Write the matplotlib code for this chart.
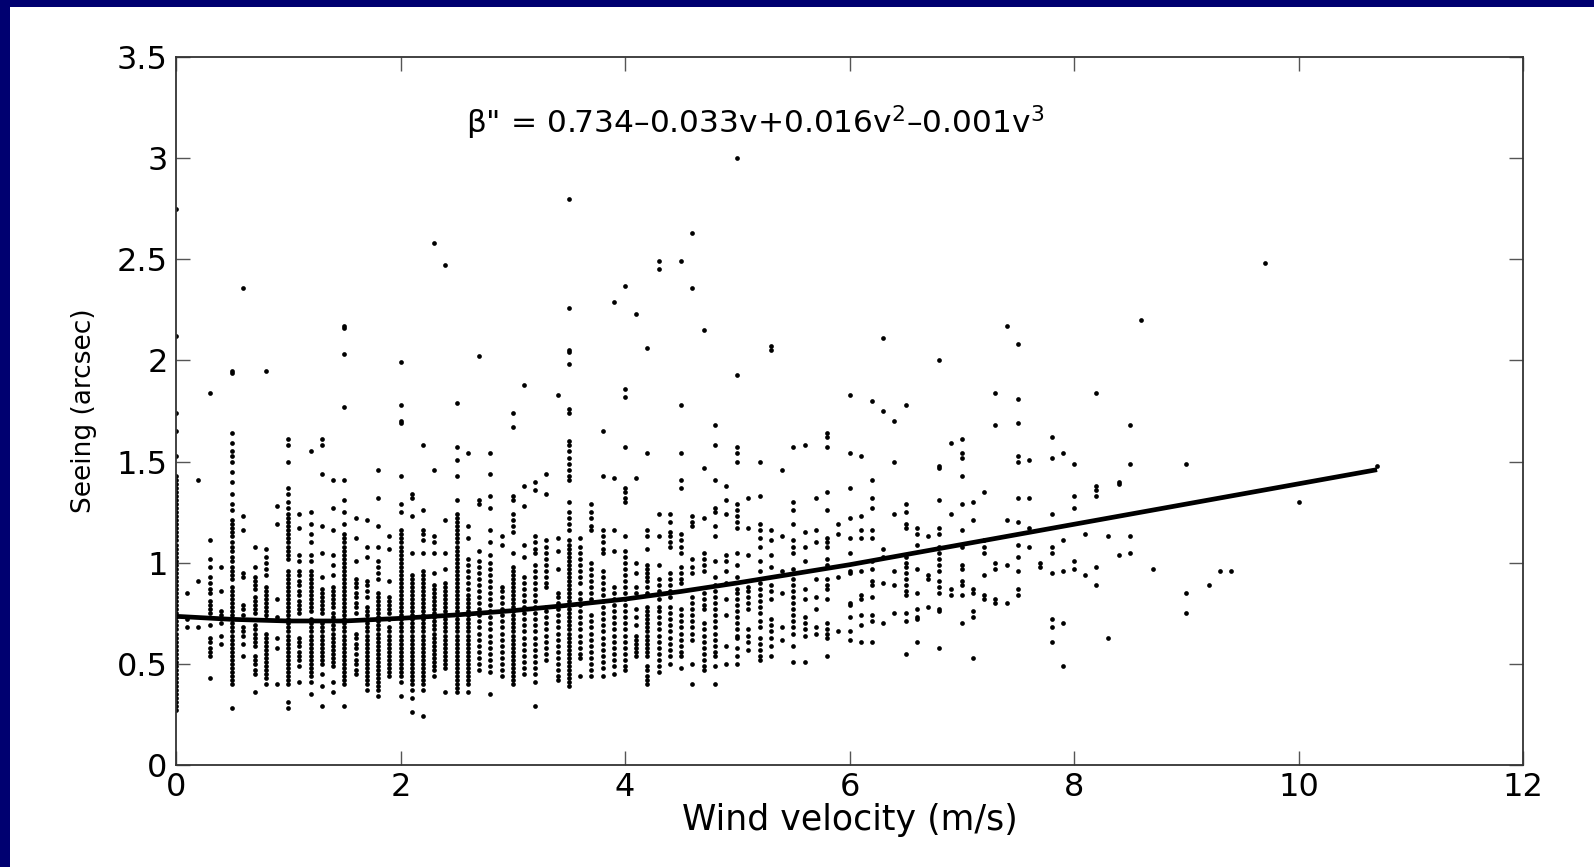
import matplotlib
matplotlib.use('Agg')
import matplotlib.pyplot as plt
from matplotlib.patches import Rectangle
import numpy as np

# wind velocity columns (m/s), data recorded in 0.1 m/s steps
col_v = [0.0, 0.1, 0.2, 0.3, 0.4, 0.5, 0.6, 0.7, 0.8, 0.9,
         1.0, 1.1, 1.2, 1.3, 1.4, 1.5, 1.6, 1.7, 1.8, 1.9,
         2.0, 2.1, 2.2, 2.3, 2.4, 2.5, 2.6, 2.7, 2.8, 2.9,
         3.0, 3.1, 3.2, 3.3, 3.4, 3.5, 3.6, 3.7, 3.8, 3.9,
         4.0, 4.1, 4.2, 4.3, 4.4, 4.5, 4.6, 4.7, 4.8, 4.9,
         5.0, 5.1, 5.2, 5.3, 5.4, 5.5, 5.6, 5.7, 5.8, 5.9,
         6.0, 6.1, 6.2, 6.3, 6.4, 6.5, 6.6, 6.7, 6.8, 6.9,
         7.0, 7.1, 7.2, 7.3, 7.4, 7.5, 7.6, 7.7, 7.8, 7.9,
         8.0, 8.1, 8.2, 8.3, 8.4, 8.5, 8.6, 8.7, 9.0, 9.2,
         9.3, 9.4, 9.7, 10.0, 10.7]

# seeing values for each column, in hundredths of arcsec
col_seeing = [
    [275, 212, 174, 165, 153, 143, 141, 139, 137, 135, 133, 131, 129, 127, 125, 123, 121, 119, 117, 115,
     113, 111, 109, 107, 105, 103, 101, 99, 97, 95, 93, 91, 89, 87, 85, 83, 81, 79, 77, 75, 73, 71, 69,
     67, 65, 63, 61, 59, 57, 55, 53, 51, 49, 47, 45, 43, 41, 39, 37, 35, 33, 31, 29, 27],
    [85, 72, 68],
    [141, 91, 68],
    [184, 111, 102, 98, 93, 90, 87, 85, 81, 79, 77, 75, 69, 63, 61, 58, 56, 54, 43],
    [98, 86, 76, 74, 70, 64, 60],
    [195, 194, 164, 159, 155, 153, 150, 145, 140, 134, 129, 126, 121, 119, 117, 115, 113, 110, 108, 106,
     103, 101, 98, 96, 94, 92, 88, 86, 84, 82, 80, 78, 76, 74, 72, 70, 68, 66, 64, 62, 60, 58, 56, 54,
     52, 50, 48, 46, 44, 42, 40, 28],
    [236, 123, 116, 95, 93, 79, 77, 74, 68, 66, 64, 60, 54],
    [108, 98, 93, 91, 89, 87, 83, 81, 79, 77, 75, 69, 67, 65, 63, 61, 59, 54, 52, 50, 47, 45, 36],
    [195, 107, 103, 100, 97, 94, 88, 86, 84, 82, 80, 78, 76, 74, 72, 65, 63, 61, 59, 57, 55, 53, 51, 49,
     47, 45, 43, 40],
    [128, 119, 82, 73, 63, 58, 40],
    [161, 158, 150, 137, 134, 130, 127, 124, 122, 120, 118, 116, 114, 112, 110, 108, 106, 104, 102, 96,
     94, 92, 90, 88, 86, 84, 82, 80, 78, 76, 74, 72, 70, 68, 66, 64, 62, 60, 58, 56, 54, 52, 50, 48, 46,
     44, 42, 40, 31, 28],
    [124, 117, 104, 101, 96, 94, 91, 89, 86, 84, 81, 79, 77, 75, 63, 61, 59, 56, 54, 52, 49, 41],
    [155, 125, 119, 114, 110, 104, 101, 96, 94, 92, 90, 88, 86, 84, 82, 80, 78, 76, 72, 70, 68, 66, 64,
     62, 60, 58, 56, 54, 52, 50, 48, 46, 44, 41, 35],
    [161, 158, 144, 118, 105, 93, 87, 85, 83, 81, 79, 77, 75, 70, 68, 66, 64, 62, 60, 58, 56, 54, 52, 50,
     45, 39, 29],
    [141, 127, 116, 104, 99, 94, 88, 86, 84, 82, 80, 78, 75, 73, 71, 69, 67, 65, 63, 61, 59, 57, 55, 53,
     51, 49, 41, 36],
    [217, 216, 203, 177, 141, 131, 125, 119, 114, 112, 110, 108, 106, 104, 102, 100, 98, 96, 94, 92, 90,
     88, 86, 84, 82, 80, 78, 76, 74, 72, 70, 68, 66, 64, 62, 60, 58, 56, 54, 52, 50, 48, 46, 44, 42, 40, 29],
    [122, 112, 101, 92, 90, 88, 85, 83, 80, 78, 75, 65, 63, 60, 58, 55, 52, 50, 47, 45],
    [121, 108, 103, 91, 89, 86, 83, 78, 76, 74, 72, 70, 68, 66, 64, 62, 60, 58, 56, 54, 52, 50, 48, 46,
     44, 42, 40, 37],
    [146, 132, 118, 108, 101, 98, 95, 92, 85, 83, 81, 79, 77, 75, 73, 71, 69, 67, 65, 63, 61, 59, 57, 55,
     53, 51, 49, 47, 45, 43, 41, 39, 37, 34],
    [113, 107, 91, 83, 81, 79, 77, 75, 72, 68, 66, 64, 62, 60, 58, 56, 54, 52, 50, 48, 46, 44],
    [199, 178, 170, 169, 143, 129, 125, 116, 114, 112, 110, 108, 106, 104, 102, 100, 98, 96, 94, 92, 90,
     88, 86, 84, 82, 80, 78, 76, 74, 72, 70, 68, 66, 64, 62, 60, 58, 56, 54, 52, 50, 48, 46, 44, 41, 34],
    [134, 132, 123, 105, 94, 92, 90, 88, 86, 84, 82, 80, 78, 76, 74, 72, 70, 68, 66, 64, 62, 60, 58, 56,
     54, 52, 50, 48, 46, 44, 42, 40, 37, 33, 26],
    [158, 126, 116, 114, 111, 105, 96, 94, 92, 90, 88, 86, 84, 82, 80, 78, 76, 74, 72, 70, 68, 66, 64,
     62, 60, 58, 56, 54, 52, 50, 48, 46, 44, 42, 40, 37, 24],
    [258, 146, 113, 110, 105, 95, 89, 87, 85, 83, 81, 79, 77, 75, 73, 71, 69, 67, 65, 63, 61, 59, 57, 55,
     53, 51, 49, 47, 44],
    [247, 121, 105, 97, 90, 88, 86, 84, 82, 80, 78, 76, 74, 72, 70, 68, 66, 64, 62, 60, 58, 56, 54, 52,
     50, 48, 36],
    [179, 157, 151, 143, 131, 124, 122, 120, 118, 116, 114, 112, 110, 108, 106, 104, 102, 100, 98, 96,
     94, 92, 90, 88, 86, 84, 82, 80, 78, 76, 74, 72, 70, 68, 66, 64, 62, 60, 58, 56, 54, 52, 50, 48, 46,
     44, 42, 40, 38, 36],
    [154, 118, 112, 102, 99, 96, 93, 90, 87, 84, 82, 80, 78, 76, 74, 72, 70, 68, 66, 64, 62, 60, 58, 56,
     54, 52, 50, 48, 46, 44, 42, 40, 36],
    [202, 131, 129, 106, 101, 98, 95, 92, 89, 86, 83, 80, 77, 74, 71, 68, 65, 62, 59, 56, 53, 50, 47],
    [154, 144, 133, 127, 116, 110, 104, 100, 97, 94, 91, 88, 85, 82, 79, 76, 73, 70, 67, 64, 61, 58, 55,
     52, 49, 46, 35],
    [113, 109, 88, 86, 83, 80, 77, 74, 71, 68, 65, 62, 59, 56, 53, 50, 47, 44],
    [174, 167, 133, 131, 124, 121, 118, 115, 105, 98, 96, 94, 92, 90, 88, 86, 84, 82, 80, 78, 76, 74, 72,
     70, 68, 66, 64, 62, 60, 58, 56, 54, 52, 50, 48, 46, 44, 42, 40],
    [188, 138, 128, 109, 103, 93, 90, 87, 84, 81, 78, 75, 72, 69, 66, 63, 60, 57, 54, 51, 48, 45],
    [140, 136, 113, 110, 107, 105, 99, 96, 93, 90, 87, 84, 81, 78, 75, 72, 69, 66, 63, 60, 57, 54, 51,
     48, 45, 41, 29],
    [144, 134, 111, 108, 105, 102, 99, 96, 93, 90, 88, 78, 76, 73, 70, 67, 64, 61, 58, 55, 52],
    [183, 112, 106, 97, 85, 83, 80, 77, 74, 71, 68, 65, 62, 59, 56, 53, 50, 47, 44, 42],
    [280, 226, 205, 204, 198, 176, 174, 160, 158, 155, 152, 149, 146, 143, 141, 130, 125, 122, 119, 116,
     111, 109, 107, 105, 103, 101, 99, 97, 95, 93, 91, 89, 87, 85, 83, 81, 79, 77, 75, 73, 71, 69, 67,
     65, 63, 61, 59, 57, 55, 53, 51, 49, 47, 45, 43, 41, 39],
    [112, 108, 105, 102, 99, 96, 93, 90, 85, 82, 79, 76, 73, 70, 67, 64, 61, 58, 55, 53, 44],
    [129, 125, 122, 118, 116, 100, 97, 94, 91, 88, 85, 82, 74, 71, 68, 65, 62, 59, 56, 53, 50, 47, 44],
    [165, 143, 116, 113, 110, 107, 105, 96, 93, 90, 87, 84, 81, 78, 75, 72, 69, 66, 63, 60, 57, 54, 51,
     48, 44],
    [229, 142, 116, 106, 88, 85, 82, 79, 76, 73, 70, 67, 64, 61, 58, 55, 52, 49, 45],
    [237, 186, 182, 157, 137, 135, 132, 130, 113, 106, 103, 100, 97, 94, 91, 88, 85, 82, 79, 76, 73, 70,
     67, 64, 61, 58, 55, 52, 49, 47],
    [223, 142, 100, 95, 88, 85, 77, 73, 69, 64, 62, 60, 58, 56, 54],
    [206, 154, 116, 113, 107, 99, 97, 95, 93, 91, 88, 85, 78, 76, 74, 72, 70, 68, 66, 64, 62, 60, 58, 56,
     54, 49, 47, 44, 42, 40],
    [249, 245, 124, 113, 99, 92, 89, 86, 82, 78, 76, 73, 70, 67, 64, 61, 58, 55, 52, 49, 46],
    [124, 120, 115, 113, 110, 108, 95, 92, 89, 86, 83, 78, 75, 72, 69, 66, 63, 60, 57, 54, 50],
    [249, 178, 154, 141, 137, 114, 111, 108, 105, 98, 95, 92, 90, 77, 74, 71, 68, 65, 62, 59, 56, 54, 48],
    [263, 236, 123, 120, 118, 102, 98, 95, 83, 80, 77, 74, 71, 68, 65, 62, 50, 40],
    [215, 147, 122, 105, 102, 99, 96, 85, 82, 79, 77, 70, 67, 64, 61, 58, 55, 52, 49, 47],
    [168, 158, 141, 127, 125, 118, 113, 101, 93, 89, 86, 83, 80, 77, 74, 71, 68, 65, 62, 59, 56, 54, 49, 40],
    [138, 131, 124, 104, 101, 96, 90, 82, 74, 59, 50],
    [300, 193, 157, 154, 150, 129, 126, 123, 120, 117, 105, 99, 93, 87, 85, 82, 79, 76, 73, 70, 67, 64,
     63, 58, 54, 50],
    [132, 117, 104, 88, 86, 83, 80, 77, 67, 64, 61, 57],
    [150, 133, 119, 116, 112, 108, 101, 96, 90, 87, 84, 81, 78, 75, 71, 68, 63, 60, 57, 54, 52],
    [207, 205, 116, 111, 104, 98, 89, 86, 82, 72, 69, 66, 63, 59, 54],
    [146, 113, 96, 85, 68, 62],
    [157, 130, 126, 119, 111, 108, 105, 97, 92, 89, 86, 83, 80, 77, 74, 71, 68, 65, 59, 51],
    [158, 115, 108, 101, 87, 82, 73, 70, 67, 64, 51],
    [132, 116, 110, 92, 83, 77, 68, 65],
    [164, 162, 157, 135, 126, 112, 110, 108, 102, 99, 92, 89, 87, 82, 70, 67, 65, 63, 54],
    [119, 114, 93, 66],
    [183, 154, 137, 122, 112, 105, 96, 95, 80, 79, 73, 66, 62],
    [153, 123, 116, 112, 96, 84, 82, 74, 69, 61],
    [180, 141, 132, 127, 116, 112, 101, 97, 91, 89, 83, 74, 71, 61],
    [211, 175, 107, 103, 90, 70],
    [170, 150, 124, 96, 89, 75],
    [178, 129, 125, 119, 117, 103, 100, 98, 95, 92, 89, 86, 84, 75, 71, 55],
    [117, 114, 109, 97, 85, 77, 73, 72, 61],
    [113, 94, 92, 78],
    [200, 148, 147, 131, 117, 114, 108, 105, 102, 99, 96, 91, 88, 85, 77, 76, 58],
    [159, 124, 87, 84],
    [161, 154, 152, 143, 129, 116, 108, 99, 97, 91, 89, 84, 70],
    [130, 121, 87, 85, 76, 73, 53],
    [135, 111, 108, 105, 94, 84, 82],
    [184, 168, 100, 97, 82, 80],
    [217, 121, 99, 80],
    [208, 181, 169, 153, 150, 132, 120, 109, 103, 96, 87, 84],
    [151, 132, 117, 108],
    [100, 98],
    [162, 152, 124, 108, 105, 95, 72, 68, 61],
    [154, 111, 96, 70, 49],
    [149, 133, 127, 101, 97],
    [114, 94],
    [184, 138, 136, 133, 98, 89],
    [113, 63],
    [140, 139, 104],
    [168, 149, 113, 105],
    [220],
    [97],
    [149, 85, 75],
    [89],
    [96],
    [96],
    [248],
    [130],
    [148],
]

# fitted curve
fit_v = [0.0, 0.5, 1.0, 1.5, 2.0, 2.5, 3.0, 3.5, 4.0, 4.5, 5.0, 5.5,
         6.0, 6.5, 7.0, 7.5, 8.0, 8.5, 9.0, 9.5, 10.0, 10.7]
fit_seeing = [0.735, 0.720, 0.712, 0.712, 0.725, 0.742, 0.763, 0.790, 0.820, 0.858, 0.900, 0.945,
              0.990, 1.040, 1.090, 1.140, 1.190, 1.240, 1.290, 1.340, 1.390, 1.460]

x_ticks = [0, 2, 4, 6, 8, 10, 12]
y_ticks = [0, 0.5, 1, 1.5, 2, 2.5, 3, 3.5]

wind = []
seeing = []
for v, ys in zip(col_v, col_seeing):
    for s in ys:
        wind.append(v)
        seeing.append(s / 100.0)

W, H = 1594, 867
fig = plt.figure(figsize=(W / 100, H / 100), dpi=100)
fig.patch.set_facecolor('white')

# navy frame strips (top and left)
navy = '#000070'
fig.patches.append(Rectangle((0, 1 - 7 / H), 1, 7 / H, transform=fig.transFigure,
                             facecolor=navy, edgecolor='none'))
fig.patches.append(Rectangle((0, 0), 10 / W, 1, transform=fig.transFigure,
                             facecolor=navy, edgecolor='none'))

ax = fig.add_axes([176 / W, (H - 765) / H, (1523 - 176) / W, (765 - 57) / H])
ax.plot(wind, seeing, 'o', color='black', markersize=3.4, markeredgewidth=0)
ax.plot(fit_v, fit_seeing, color='black', linewidth=3.4, solid_capstyle='butt')

ax.set_xlim(0, 12)
ax.set_ylim(0, 3.5)
ax.set_xticks(x_ticks)
ax.set_yticks(y_ticks)
ax.set_xticklabels([str(t) for t in x_ticks])
ax.set_yticklabels(['0', '0.5', '1', '1.5', '2', '2.5', '3', '3.5'])
ax.tick_params(direction='in', length=10, width=1, top=True, right=True,
               labelsize=23, color='#555555', labelcolor='black')
ax.tick_params(axis='y', pad=6)
ax.tick_params(axis='x', pad=5)
for sp in ax.spines.values():
    sp.set_linewidth(1.3)
    sp.set_color('#333333')

ax.set_xlabel('Wind velocity (m/s)', fontsize=25, labelpad=0)
ax.set_ylabel('Seeing (arcsec)', fontsize=19, labelpad=14)

ax.text(0.215, 0.907, r'β" = 0.734–0.033v+0.016v$^2$–0.001v$^3$',
        transform=ax.transAxes, fontsize=22.5, ha='left', va='center')

fig.savefig('out.png', dpi=100)
